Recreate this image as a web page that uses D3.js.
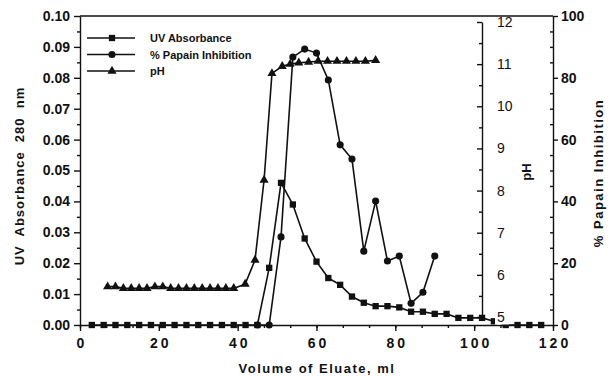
<!DOCTYPE html>
<html>
<head>
<meta charset="utf-8">
<script src="https://cdn.jsdelivr.net/npm/d3@7/dist/d3.min.js"></script>
<style>
  body { margin: 0; background: #fff; }
  svg { display: block; font-family: "Liberation Sans", Arial, sans-serif; }
</style>
</head>
<body>
<svg id="chart" width="608" height="376"></svg>
<script>
// fractions (ml) and readings
const uvVolume = [3, 6, 9, 12, 15, 18, 21, 24, 27, 30, 33, 36, 39, 42, 45, 48, 51, 54, 57, 60, 63, 66, 69, 72, 75, 78, 81, 84, 87, 90, 93, 96, 99, 102, 105, 108, 111, 114, 117];
const uvAbsorbance = [0, 0, 0, 0, 0, 0, 0, 0, 0, 0, 0, 0, 0, 0, 0, 0.0185, 0.046, 0.039, 0.028, 0.0205, 0.0152, 0.013, 0.0092, 0.0072, 0.0061, 0.0061, 0.0057, 0.0043, 0.0043, 0.0036, 0.0036, 0.0023, 0.0023, 0.0023, 0.0012, 0, 0, 0, 0];

const inhibVolume = [45, 48, 51, 54, 57, 60, 63, 66, 69, 72, 75, 78, 81, 84, 87, 90];
const inhibPercent = [0, 0, 28.5, 86.7, 89.3, 88, 79.3, 58.3, 53.7, 23.9, 40.1, 20.7, 22.3, 7, 10.6, 22.3];

const phVolume = [7, 9, 11, 13, 15, 17, 19, 21, 23, 25, 27, 29, 31, 33, 35, 37, 39, 41.9, 44.4, 46.7, 48.7, 51.3, 53.3, 55.5, 58, 60.4, 62.8, 65.2, 67.6, 70, 72.4, 75];
const phValue = [5.72, 5.72, 5.68, 5.68, 5.68, 5.68, 5.72, 5.72, 5.68, 5.68, 5.68, 5.68, 5.68, 5.68, 5.68, 5.68, 5.68, 5.78, 6.35, 8.25, 10.78, 10.95, 11.0, 11.03, 11.05, 11.07, 11.07, 11.07, 11.07, 11.07, 11.07, 11.09];

const xTicks = [0, 20, 40, 60, 80, 100, 120];
const uvTicks = [0, 0.01, 0.02, 0.03, 0.04, 0.05, 0.06, 0.07, 0.08, 0.09, 0.10];
const phTicks = [5, 6, 7, 8, 9, 10, 11, 12];
const pctTicks = [0, 20, 40, 60, 80, 100];

const legendItems = ['UV Absorbance', '% Papain Inhibition', 'pH'];

const svg = d3.select('#chart');

const x = d3.scaleLinear().domain([0, 120]).range([80, 553]);
const yUV = d3.scaleLinear().domain([0, 0.1]).range([325, 16]);
const yPH = d3.scaleLinear().domain([5, 12]).range([317, 22]);
const yPct = d3.scaleLinear().domain([0, 100]).range([325, 16]);

function styleAxis(g) {
  g.selectAll('path, line').attr('stroke', '#111').attr('stroke-width', 1.4);
  g.selectAll('text').attr('fill', '#111');
}

// minor ticks
const minorX = d3.range(0, 121, 20 / 3);
svg.append('g').attr('transform', 'translate(0,325)')
  .call(d3.axisBottom(x).tickValues(minorX).tickSize(3).tickFormat(''))
  .call(g => g.select('.domain').remove()).call(styleAxis);
svg.append('g').attr('transform', 'translate(80,0)')
  .call(d3.axisLeft(yUV).tickValues(d3.range(0.005, 0.1, 0.01)).tickSize(3).tickFormat(''))
  .call(g => g.select('.domain').remove()).call(styleAxis);
svg.append('g').attr('transform', 'translate(482,0)')
  .call(d3.axisLeft(yPH).tickValues(d3.range(5.5, 12, 1)).tickSize(3).tickFormat(''))
  .call(g => g.select('.domain').remove()).call(styleAxis);
svg.append('g').attr('transform', 'translate(553,0)')
  .call(d3.axisLeft(yPct).tickValues(d3.range(5, 100, 5).filter(d => d % 20 !== 0)).tickSize(3).tickFormat(''))
  .call(g => g.select('.domain').remove()).call(styleAxis);

// x axis
svg.append('g').attr('transform', 'translate(0,325)')
  .call(d3.axisBottom(x).tickValues(xTicks).tickSize(6).tickSizeOuter(0).tickPadding(7))
  .call(styleAxis)
  .call(g => g.selectAll('text').attr('font-size', 14).attr('font-weight', 'bold')
    .attr('letter-spacing', 3).attr('dx', 1.5));

// left axis
svg.append('g').attr('transform', 'translate(80,0)')
  .call(d3.axisLeft(yUV).tickValues(uvTicks).tickFormat(d3.format('.2f')).tickSize(6).tickSizeOuter(0).tickPadding(4))
  .call(styleAxis)
  .call(g => g.selectAll('text').attr('font-size', 14).attr('font-weight', 'bold'));

// top border
svg.append('line').attr('x1', 80).attr('x2', 553).attr('y1', 16).attr('y2', 16)
  .attr('stroke', '#111').attr('stroke-width', 1.4);

// series
const uvData = uvVolume.map((v, i) => [v, uvAbsorbance[i]]);
const inhibData = inhibVolume.map((v, i) => [v, inhibPercent[i]]);
const phData = phVolume.map((v, i) => [v, phValue[i]]);

function drawLine(data, yScale) {
  svg.append('path').datum(data)
    .attr('d', d3.line().x(d => x(d[0])).y(d => yScale(d[1])))
    .attr('fill', 'none').attr('stroke', '#111').attr('stroke-width', 1.6);
}
drawLine(phData, yPH);
drawLine(uvData, yUV);
drawLine(inhibData, yPct);

const square = d3.symbol().type(d3.symbolSquare).size(40)();
const circle = d3.symbol().type(d3.symbolCircle).size(40)();
const triangle = d3.symbol().type(d3.symbolTriangle).size(36)();

svg.append('g').selectAll('path').data(phData).join('path')
  .attr('d', triangle).attr('transform', d => `translate(${x(d[0])},${yPH(d[1])})`).attr('fill', '#111');
svg.append('g').selectAll('path').data(uvData).join('path')
  .attr('d', square).attr('transform', d => `translate(${x(d[0])},${yUV(d[1])})`).attr('fill', '#111');
svg.append('g').selectAll('path').data(inhibData).join('path')
  .attr('d', circle).attr('transform', d => `translate(${x(d[0])},${yPct(d[1])})`).attr('fill', '#111');

// pH axis (labels sit on a white patch over the data)
const phAxis = svg.append('g').attr('transform', 'translate(482,0)')
  .call(d3.axisRight(yPH).tickValues(phTicks).tickFormat(d3.format('d')).tickSize(-5).tickSizeOuter(0).tickPadding(15))
  .call(styleAxis)
  .call(g => g.selectAll('text').attr('font-size', 14));
phAxis.selectAll('.tick').filter(d => d === 5).insert('rect', 'text')
  .attr('x', 13).attr('y', -8).attr('width', 14).attr('height', 15).attr('fill', '#fff');

// % axis
svg.append('g').attr('transform', 'translate(553,0)')
  .call(d3.axisRight(yPct).tickValues(pctTicks).tickSize(5).tickSizeOuter(0).tickPadding(3))
  .call(styleAxis)
  .call(g => g.selectAll('text').attr('font-size', 14).attr('font-weight', 'bold'));

// legend
const markers = [square, circle, triangle];
const legend = svg.append('g');
legendItems.forEach((label, i) => {
  const y = 38 + i * 16.5;
  legend.append('line').attr('x1', 87).attr('x2', 135).attr('y1', y).attr('y2', y)
    .attr('stroke', '#111').attr('stroke-width', 1.6);
  legend.append('path').attr('d', markers[i]).attr('transform', `translate(112,${y})`).attr('fill', '#111');
  legend.append('text').attr('x', 150).attr('y', y + 4).attr('font-size', 11).attr('font-weight', 'bold')
    .attr('fill', '#111').text(label);
});

// axis titles
svg.append('text').attr('transform', 'translate(24,176) rotate(-90)').attr('text-anchor', 'middle')
  .attr('font-size', 13).attr('font-weight', 'bold').attr('letter-spacing', 1).attr('fill', '#111')
  .attr('xml:space', 'preserve').style('white-space', 'pre')
  .text('UV  Absorbance  280  nm');
svg.append('text').attr('x', 317).attr('y', 373).attr('text-anchor', 'middle')
  .attr('font-size', 13).attr('font-weight', 'bold').attr('letter-spacing', 1.5).attr('fill', '#111')
  .text('Volume of Eluate, ml');
svg.append('text').attr('transform', 'translate(531,172) rotate(-90)').attr('text-anchor', 'middle')
  .attr('font-size', 13).attr('font-weight', 'bold').attr('fill', '#111').text('pH');
svg.append('text').attr('transform', 'translate(603,173) rotate(-90)').attr('text-anchor', 'middle')
  .attr('font-size', 13).attr('font-weight', 'bold').attr('letter-spacing', 1.5).attr('fill', '#111')
  .text('% Papain Inhibition');
</script>
</body>
</html>
